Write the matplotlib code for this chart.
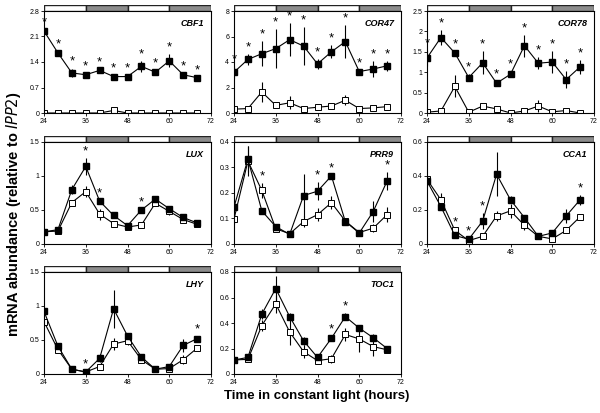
import matplotlib
matplotlib.use("Agg")
import matplotlib.pyplot as plt
from matplotlib.patches import Rectangle
from matplotlib.ticker import FormatStrFormatter

plt.rcParams['font.family'] = ['Liberation Sans', 'DejaVu Sans']

# sampling times (hours in constant light)
hours = [24, 28, 32, 36, 40, 44, 48, 52, 56, 60, 64, 68]

# light / dark bar above each panel: (start, end, subjective night?)
light_bar = [(24, 36, False), (36, 48, True), (48, 60, False), (60, 72, True)]

# CBF1
cbf1_filled = [2.25, 1.65, 1.10, 1.05, 1.17, 1.00, 1.00, 1.28, 1.12, 1.43, 1.05, 0.97]
cbf1_filled_err = [0.05, 0.05, 0.12, 0.04, 0.04, 0.03, 0.03, 0.15, 0.06, 0.18, 0.04, 0.03]
cbf1_open = [0.0, 0.0, 0.0, 0.0, 0.0, 0.07, 0.0, 0.0, 0.0, 0.0, 0.0, 0.0]
cbf1_open_err = [0.01, 0.01, 0.01, 0.01, 0.01, 0.02, 0.01, 0.01, 0.01, 0.01, 0.01, 0.01]
cbf1_stars = [24, 28, 32, 36, 40, 44, 48, 52, 56, 60, 64, 68]

# COR47
cor47_filled = [3.2, 4.2, 4.65, 5.05, 5.75, 5.25, 3.85, 4.8, 5.6, 3.25, 3.45, 3.7]
cor47_filled_err = [0.5, 0.4, 1.0, 1.5, 1.3, 1.5, 0.4, 0.5, 1.3, 0.1, 0.6, 0.4]
cor47_open = [0.3, 0.35, 1.65, 0.6, 0.8, 0.35, 0.45, 0.55, 1.0, 0.35, 0.4, 0.5]
cor47_open_err = [0.1, 0.05, 0.75, 0.1, 0.5, 0.05, 0.05, 0.1, 0.4, 0.05, 0.05, 0.05]
cor47_stars = [24, 28, 32, 36, 40, 44, 48, 52, 56, 60, 64, 68]

# COR78
cor78_filled = [1.35, 1.85, 1.47, 0.87, 1.23, 0.73, 0.95, 1.65, 1.22, 1.25, 0.82, 1.13]
cor78_filled_err = [0.2, 0.18, 0.05, 0.08, 0.28, 0.05, 0.07, 0.27, 0.15, 0.27, 0.2, 0.17]
cor78_open = [0.02, 0.05, 0.65, 0.02, 0.17, 0.1, 0.0, 0.05, 0.17, 0.03, 0.06, 0.0]
cor78_open_err = [0.01, 0.02, 0.27, 0.01, 0.03, 0.07, 0.01, 0.02, 0.15, 0.02, 0.02, 0.01]
cor78_stars = [24, 28, 32, 36, 40, 44, 48, 52, 56, 60, 64, 68]

# LUX
lux_filled = [0.18, 0.21, 0.80, 1.14, 0.63, 0.42, 0.27, 0.50, 0.66, 0.52, 0.39, 0.31]
lux_filled_err = [0.02, 0.02, 0.07, 0.13, 0.02, 0.04, 0.02, 0.02, 0.02, 0.03, 0.02, 0.02]
lux_open = [0.18, 0.19, 0.61, 0.77, 0.44, 0.30, 0.25, 0.28, 0.60, 0.48, 0.36, 0.29]
lux_open_err = [0.02, 0.02, 0.04, 0.08, 0.08, 0.04, 0.02, 0.02, 0.02, 0.05, 0.02, 0.02]
lux_stars = [36, 40, 52]

# PRR9
prr9_filled = [0.145, 0.333, 0.13, 0.068, 0.038, 0.19, 0.207, 0.267, 0.088, 0.043, 0.127, 0.247]
prr9_filled_err = [0.02, 0.05, 0.01, 0.01, 0.01, 0.085, 0.035, 0.005, 0.01, 0.005, 0.04, 0.035]
prr9_open = [0.098, 0.325, 0.21, 0.06, 0.04, 0.088, 0.115, 0.162, 0.09, 0.045, 0.062, 0.115]
prr9_open_err = [0.02, 0.06, 0.03, 0.01, 0.01, 0.02, 0.025, 0.025, 0.01, 0.005, 0.015, 0.03]
prr9_stars = [32, 48, 52, 68]

# CCA1
cca1_filled = [0.37, 0.22, 0.05, 0.028, 0.135, 0.41, 0.26, 0.155, 0.045, 0.065, 0.165, 0.26]
cca1_filled_err = [0.03, 0.01, 0.005, 0.005, 0.045, 0.13, 0.02, 0.01, 0.005, 0.01, 0.04, 0.03]
cca1_open = [0.38, 0.26, 0.08, 0.02, 0.045, 0.165, 0.195, 0.11, 0.045, 0.03, 0.08, 0.16]
cca1_open_err = [0.02, 0.04, 0.01, 0.005, 0.005, 0.03, 0.04, 0.03, 0.005, 0.005, 0.015, 0.01]
cca1_stars = [32, 36, 40, 68]

# LHY
lhy_filled = [0.92, 0.41, 0.07, 0.03, 0.23, 0.96, 0.56, 0.25, 0.07, 0.11, 0.42, 0.52]
lhy_filled_err = [0.04, 0.02, 0.01, 0.01, 0.06, 0.28, 0.04, 0.02, 0.01, 0.02, 0.1, 0.04]
lhy_open = [0.77, 0.36, 0.07, 0.03, 0.11, 0.44, 0.49, 0.21, 0.07, 0.08, 0.21, 0.38]
lhy_open_err = [0.02, 0.02, 0.01, 0.01, 0.02, 0.09, 0.06, 0.02, 0.01, 0.01, 0.07, 0.02]
lhy_stars = [36, 68]

# TOC1
toc1_filled = [0.11, 0.13, 0.47, 0.67, 0.45, 0.26, 0.13, 0.28, 0.45, 0.36, 0.285, 0.2]
toc1_filled_err = [0.01, 0.01, 0.04, 0.1, 0.03, 0.03, 0.02, 0.02, 0.03, 0.01, 0.03, 0.01]
toc1_open = [0.11, 0.115, 0.38, 0.55, 0.33, 0.175, 0.105, 0.12, 0.31, 0.275, 0.215, 0.19]
toc1_open_err = [0.01, 0.01, 0.04, 0.07, 0.1, 0.05, 0.02, 0.03, 0.05, 0.1, 0.07, 0.01]
toc1_stars = [52, 56]

panels = [
    ("CBF1", cbf1_filled, cbf1_filled_err, cbf1_open, cbf1_open_err, cbf1_stars, [0, 0.7, 1.4, 2.1, 2.8]),
    ("COR47", cor47_filled, cor47_filled_err, cor47_open, cor47_open_err, cor47_stars, [0, 2, 4, 6, 8]),
    ("COR78", cor78_filled, cor78_filled_err, cor78_open, cor78_open_err, cor78_stars, [0, 0.5, 1, 1.5, 2, 2.5]),
    ("LUX", lux_filled, lux_filled_err, lux_open, lux_open_err, lux_stars, [0, 0.5, 1, 1.5]),
    ("PRR9", prr9_filled, prr9_filled_err, prr9_open, prr9_open_err, prr9_stars, [0, 0.1, 0.2, 0.3, 0.4]),
    ("CCA1", cca1_filled, cca1_filled_err, cca1_open, cca1_open_err, cca1_stars, [0, 0.2, 0.4, 0.6]),
    ("LHY", lhy_filled, lhy_filled_err, lhy_open, lhy_open_err, lhy_stars, [0, 0.5, 1, 1.5]),
    ("TOC1", toc1_filled, toc1_filled_err, toc1_open, toc1_open_err, toc1_stars, [0, 0.2, 0.4, 0.6, 0.8]),
]

W, H = 600, 413
col_left = [44, 234, 427]
col_width = 167
row_top = [11, 142, 272]
row_height = 102
bar_height = 6


def px_axes(fig, left, top, width, height):
    return fig.add_axes([left / W, 1 - (top + height) / H, width / W, height / H])


def draw_bar(fig, left, top):
    bax = px_axes(fig, left, top - bar_height, col_width, bar_height)
    for start, end, dark in light_bar:
        bax.add_patch(Rectangle((start, 0), end - start, 1,
                                facecolor="#8c8c8c" if dark else "white",
                                edgecolor="#222222", linewidth=1.0))
    bax.set_xlim(24, 72)
    bax.set_ylim(0, 1)
    bax.axis("off")


def draw_panel(ax, name, filled, filled_err, opn, opn_err, stars, yticks):
    ax.errorbar(hours, opn, yerr=opn_err, color="black", lw=0.8, elinewidth=0.8,
                capsize=0, marker="s", markersize=3.8, markerfacecolor="white",
                markeredgecolor="black", markeredgewidth=0.7, zorder=2)
    ax.errorbar(hours, filled, yerr=filled_err, color="black", lw=0.8, elinewidth=0.8,
                capsize=0, marker="s", markersize=3.8, markerfacecolor="black",
                markeredgecolor="black", zorder=3)
    ymax = yticks[-1]
    for h in stars:
        i = hours.index(h)
        top = max(filled[i] + filled_err[i], opn[i] + opn_err[i])
        ax.text(h, top + 0.065 * ymax, "*", ha="center", va="center", fontsize=9.5)
    ax.set_xlim(24, 72)
    ax.set_ylim(0, ymax)
    ax.set_xticks([24, 36, 48, 60, 72])
    ax.set_yticks(yticks)
    ax.yaxis.set_major_formatter(FormatStrFormatter("%g"))
    ax.tick_params(labelsize=5, length=2, width=0.6, pad=1.5)
    for s in ax.spines.values():
        s.set_linewidth(0.8)
    ax.text(0.96, 0.88, name, transform=ax.transAxes, ha="right", va="center",
            fontsize=6.5, fontweight="bold", fontstyle="italic")


fig = plt.figure(figsize=(W / 100, H / 100), dpi=100)

for k, p in enumerate(panels):
    r, c = divmod(k, 3)
    ax = px_axes(fig, col_left[c], row_top[r], col_width, row_height)
    draw_panel(ax, *p)
    draw_bar(fig, col_left[c], row_top[r])

fig.text(0.527, 0.042, "Time in constant light (hours)", ha="center", va="center",
         fontsize=9.5, fontweight="bold")
fig.text(0.022, 0.482, r"mRNA abundance (relative to $\bf\it{IPP2}$)", ha="center",
         va="center", rotation=90, fontsize=10.5, fontweight="bold")

fig.savefig("out.png", dpi=100)
